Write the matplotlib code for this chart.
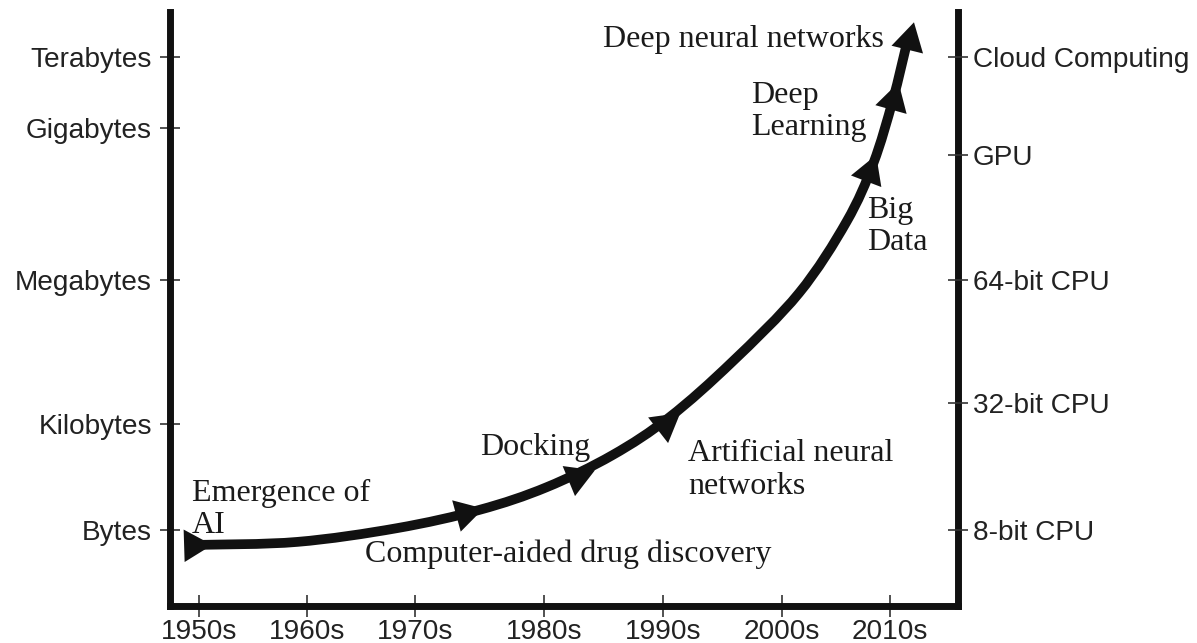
import numpy as np
import matplotlib.pyplot as plt
from matplotlib.path import Path
from matplotlib.patches import PathPatch

# x axis: decades (tick positions, in years)
decades = ['1950s', '1960s', '1970s', '1980s', '1990s', '2000s', '2010s']
decade_pos = [1950, 1960, 1970, 1982, 1993, 2004, 2014]

# left axis: data size, right axis: hardware
storage = ['Bytes', 'Kilobytes', 'Megabytes', 'Gigabytes', 'Terabytes']
storage_pos = [12.8, 30.6, 54.9, 80.5, 92.4]
hardware = ['8-bit CPU', '32-bit CPU', '64-bit CPU', 'GPU', 'Cloud Computing']
hardware_pos = [12.8, 34.2, 54.9, 75.9, 92.4]

# growth curve
curve_x = [1950.1, 1959.1, 1968.3, 1976.0, 1982.2, 1988.3, 1993.6,
           1999.4, 2005.6, 2010.0, 2012.5, 2014.3, 2015.6]
curve_y = [10.3, 10.8, 13.1, 16.2, 20.0, 25.4, 31.8,
           41.1, 52.7, 64.7, 74.6, 85.2, 94.8]

# arrow heads along the curve
arrow_x = [1949.4, 1974.6, 1985.0, 1993.2, 2012.1, 2014.3, 2015.8]
arrow_y = [10.3, 15.7, 21.7, 30.6, 73.1, 85.2, 95.3]

INK = '#111111'

fig = plt.figure(figsize=(11.97, 6.43), dpi=100)
ax = fig.add_axes([0.142, 0.0575, 0.658, 0.9235])
ax.set_xlim(1947.3, 2020.3)
ax.set_ylim(0, 100)

# smooth curve through the read points (Catmull-Rom as cubic Bezier)
P = np.column_stack([curve_x, curve_y])
Pe = np.vstack([P[0], P, P[-1]])
verts, codes = [P[0]], [Path.MOVETO]
for k in range(1, len(Pe) - 2):
    p0, p1, p2, p3 = Pe[k - 1], Pe[k], Pe[k + 1], Pe[k + 2]
    verts += [p1 + (p2 - p0) / 6, p2 - (p3 - p1) / 6, p2]
    codes += [Path.CURVE4] * 3
ax.add_patch(PathPatch(Path(verts, codes), fc='none', ec=INK, lw=7,
                       capstyle='butt', zorder=3))

# orient each triangle along the curve in display space
fig.canvas.draw()
pts = ax.transData.transform(P)
for x, y in zip(arrow_x, arrow_y):
    p = ax.transData.transform((x, y))
    i = int(np.argmin(np.hypot(*(pts - p).T)))
    a, b = pts[max(i - 1, 0)], pts[min(i + 1, len(pts) - 1)]
    ang = np.degrees(np.arctan2(b[1] - a[1], b[0] - a[0]))
    ax.plot(x, y, marker=(3, 0, ang - 90), ms=27, color=INK, mew=0,
            zorder=4)

for s in ['left', 'right', 'bottom']:
    ax.spines[s].set_linewidth(5)
    ax.spines[s].set_color(INK)
    ax.spines[s].set_capstyle('projecting')
ax.spines['top'].set_visible(False)

sans = dict(family='Liberation Sans', size=20.2, color='#222222')
ax.set_xticks(decade_pos, decades, **sans)
ax.set_yticks(storage_pos, storage, **sans)
ax.tick_params(axis='x', direction='inout', length=16, width=1.2,
               color='#333333', pad=1)
ax.tick_params(axis='y', direction='inout', length=14, width=1.2,
               color='#333333', pad=6)

ax2 = ax.twinx()
ax2.set_ylim(0, 100)
for s in ax2.spines.values():
    s.set_visible(False)
ax2.set_yticks(hardware_pos, hardware, **sans)
ax2.tick_params(axis='y', direction='inout', length=14, width=1.2,
                color='#333333', pad=4)

# va='baseline' pins the last line of multi-line labels
serif = dict(family='Liberation Serif', size=23, color='#1a1a1a',
             va='baseline', linespacing=1.15)
ax.text(1949.35, 12.3, 'Emergence of\nAI', **serif)
ax.text(1965.4, 7.4, 'Computer-aided drug discovery', **serif)
ax.text(1976.0, 25.4, 'Docking', **serif)
ax.text(1995.3, 18.9, 'Artificial neural\nnetworks', **serif)
ax.text(2011.9, 59.9, 'Big\nData', **serif)
ax.text(2001.2, 79.3, 'Deep\nLearning', **serif)
ax.text(1987.4, 94.1, 'Deep neural networks', **serif)

fig.savefig('out.png', dpi=100)
